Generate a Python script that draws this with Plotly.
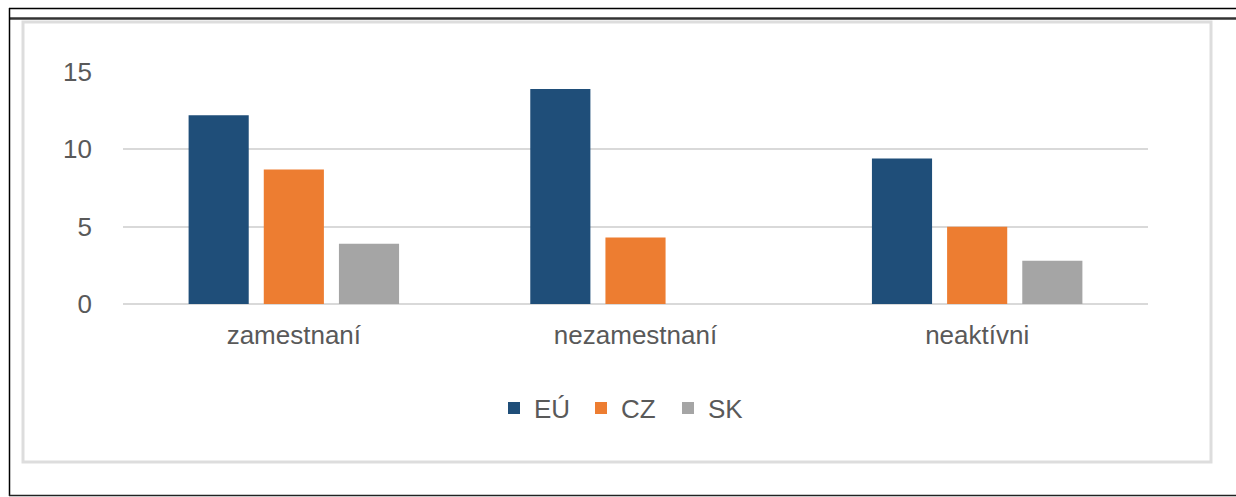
import plotly.graph_objects as go

categories = ["zamestnaní", "nezamestnaní", "neaktívni"]
eu_values = [12.2, 13.9, 9.4]
cz_values = [8.7, 4.3, 5.0]
sk_values = [3.9, None, 2.8]
series_names = ["EÚ", "CZ", "SK"]
series_colors = ["#1F4E79", "#ED7D31", "#A5A5A5"]
y_ticks = [0, 5, 10, 15]

W, H = 1236, 497
L, R, T, B = 123, 88, 72, 193

fig = go.Figure()
for name, vals, col in zip(series_names, [eu_values, cz_values, sk_values], series_colors):
    fig.add_trace(go.Bar(x=categories, y=vals, name=name, marker=dict(color=col, line=dict(width=0))))

def px_x(x):
    return (x - L) / (W - L - R)

def px_y(y):
    return (H - B - y) / (H - T - B)

shapes = []
shapes.append(dict(type="line", xref="paper", yref="paper", x0=px_x(9), x1=px_x(1240), y0=px_y(8.5), y1=px_y(8.5), line=dict(color="black", width=1.5)))
shapes.append(dict(type="line", xref="paper", yref="paper", x0=px_x(9), x1=px_x(1240), y0=px_y(18.5), y1=px_y(18.5), line=dict(color="#333333", width=2.5)))
shapes.append(dict(type="line", xref="paper", yref="paper", x0=px_x(9.5), x1=px_x(9.5), y0=px_y(8), y1=px_y(496), line=dict(color="black", width=1.5)))
shapes.append(dict(type="line", xref="paper", yref="paper", x0=px_x(9), x1=px_x(1240), y0=px_y(495.5), y1=px_y(495.5), line=dict(color="#222222", width=1.5)))
shapes.append(dict(type="rect", xref="paper", yref="paper", x0=px_x(23), x1=px_x(1211), y0=px_y(22), y1=px_y(462), line=dict(color="#DDDDDD", width=3), layer="below"))

FS = 26
fig.update_layout(
    width=W, height=H,
    margin=dict(l=L, r=R, t=T, b=B, pad=0),
    paper_bgcolor="white", plot_bgcolor="white",
    barmode="group", bargap=0.34, bargroupgap=0.2,
    font=dict(family="Liberation Sans, Arial, sans-serif", color="#595959", size=FS),
    showlegend=True,
    legend=dict(orientation="h", x=px_x(494), xanchor="left", y=px_y(408), yanchor="middle",
                font=dict(size=FS, color="#595959"), itemwidth=30, traceorder="normal",
                entrywidth=42, entrywidthmode="pixels"),
    shapes=shapes,
)
fig.update_xaxes(showgrid=False, showline=False, zeroline=False, ticks="", ticklabelstandoff=13,
                 tickfont=dict(size=FS, color="#595959"))
fig.update_yaxes(range=[0, 15], tickvals=y_ticks, showgrid=True, gridcolor="#D9D9D9", gridwidth=2,
                 zeroline=True, zerolinecolor="#D9D9D9", zerolinewidth=2, showline=False, ticks="",
                 ticklabelstandoff=30, tickfont=dict(size=FS, color="#595959"))

fig.write_html("out.html", config={"displayModeBar": False},
               post_script="document.body.style.margin='0';")
